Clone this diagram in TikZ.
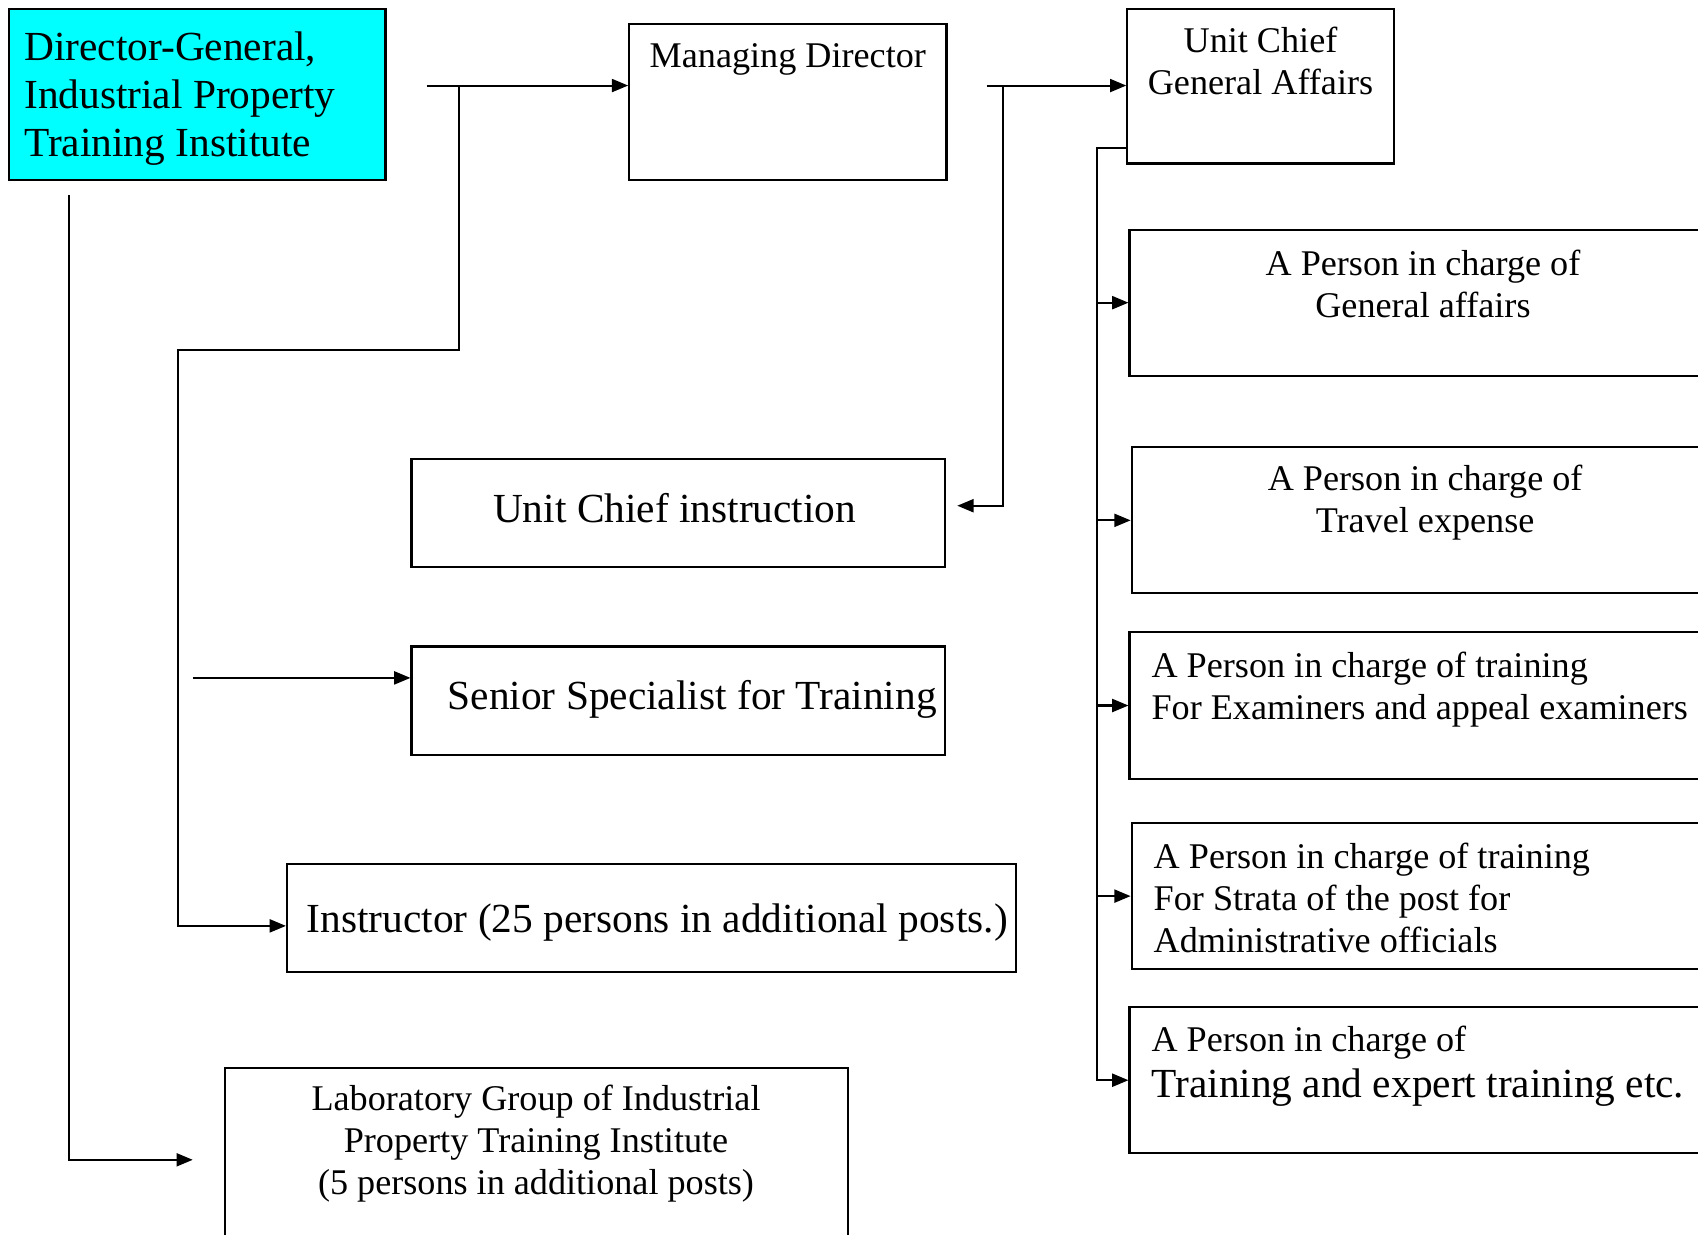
\documentclass[tikz,border=0pt]{standalone}
\usepackage{fontspec}
\setmainfont{Liberation Serif}
\usetikzlibrary{arrows.meta,fit,calc}
\definecolor{aqua}{RGB}{0,255,255}
\newcommand\fsm{\fontsize{16.7}{19.5}\selectfont}
\newcommand\flg{\fontsize{19.1}{22}\selectfont}
\begin{document}
\begin{tikzpicture}[x=0.5pt,y=-0.5pt,
  box/.style={draw=black,line width=0.95pt,inner sep=0pt},
  txt/.style={inner sep=0pt,font=\fsm},
  ltxt/.style={inner sep=0pt,font=\flg},
  arr/.style={line width=0.95pt,-{Triangle[length=7.5pt,width=6pt]}}]
\clip (0,0) rectangle (1568,1140);
\fill[white] (0,0) rectangle (1568,1140);
% boxes
\node[box,fill=aqua,fit={(8,8) (356,166)}] (dg) {};
\node[box,fit={(581,22) (874,166)}] (md) {};
\node[box,fit={(1041,8) (1287,151)}] (ucg) {};
\node[box,fit={(1043,212) (1590,347)}] (ga) {};
\node[box,fit={(1045,413) (1590,548)}] (tv) {};
\node[box,fit={(1043,584) (1590,719)}] (ex) {};
\node[box,fit={(1045,760) (1590,895)}] (st) {};
\node[box,fit={(1043,930) (1590,1065)}] (tr) {};
\node[box,fit={(380,424) (873,524)}] (uci) {};
\node[box,fit={(380,597) (873,697)}] (ss) {};
\node[box,fit={(265,798) (938,898)}] (ins) {};
\node[box,fit={(208,986) (783,1160)}] (lab) {};
% texts
\node[ltxt,align=left,anchor=west] (dgt) at (22,91) {Director-General,\\Industrial Property\\Training Institute};
\node[txt] (mdt) at (727.5,55) {Managing Director};
\node[txt,align=center] (ucgt) at (1164,56) {Unit Chief\\General Affairs};
\node[txt,align=center] (gat) at (1314,262) {A Person in charge of\\General affairs};
\node[txt,align=center] (tvt) at (1316,464) {A Person in charge of\\Travel expense};
\node[txt,align=left,anchor=west] (ext) at (1063,637) {A Person in charge of training\\For Examiners and appeal examiners};
\node[txt,align=left,anchor=west] (stt) at (1065,829) {A Person in charge of training\\For Strata of the post for\\Administrative officials};
\node[txt,anchor=west] (trt1) at (1063,963) {A Person in charge of};
\node[ltxt,anchor=west] (trt2) at (1063,1004) {Training and expert training etc.};
\node[ltxt] (ucit) at (623,469) {Unit Chief instruction};
\node[ltxt,anchor=west] (sst) at (413,646) {Senior Specialist for Training};
\node[ltxt,anchor=west] (inst) at (283,852) {Instructor (25 persons in additional posts.)};
\node[txt,align=center] (labt) at (495,1056) {Laboratory Group of Industrial\\Property Training Institute\\(5 persons in additional posts)};
% coordinates
\coordinate (dgS) at (64,180);
\coordinate (labA) at (178,1071);
\coordinate (a1) at (394,79);
\coordinate (j1) at (424,79);
\coordinate (k1) at (164,323);
\coordinate (k2) at (164,855);
\coordinate (s0) at (178,626);
\coordinate (b1) at (911,79);
\coordinate (j2) at (926,79);
\coordinate (uciA) at (884,467);
\coordinate (br0) at (1013,137);
% connectors
\draw[arr] (dgS) |- (labA);
\draw[arr] (a1) -- (md.west |- a1);
\draw[arr] (j1) |- (k1) -- (k2) -- (ins.west |- k2);
\draw[arr] (s0) -- (ss.west |- s0);
\draw[arr] (b1) -- (ucg.west |- b1);
\draw[arr] (j2) |- (uciA);
\draw[arr] (ucg.west |- br0) -| (br0 |- tr.west) -- (tr.west);
\draw[arr] (br0 |- ga.west) -- (ga.west);
\draw[arr] (br0 |- tv.west) -- (tv.west);
\draw[arr] (br0 |- ex.west) -- (ex.west);
\draw[arr] (br0 |- st.west) -- (st.west);
\end{tikzpicture}
\end{document}
